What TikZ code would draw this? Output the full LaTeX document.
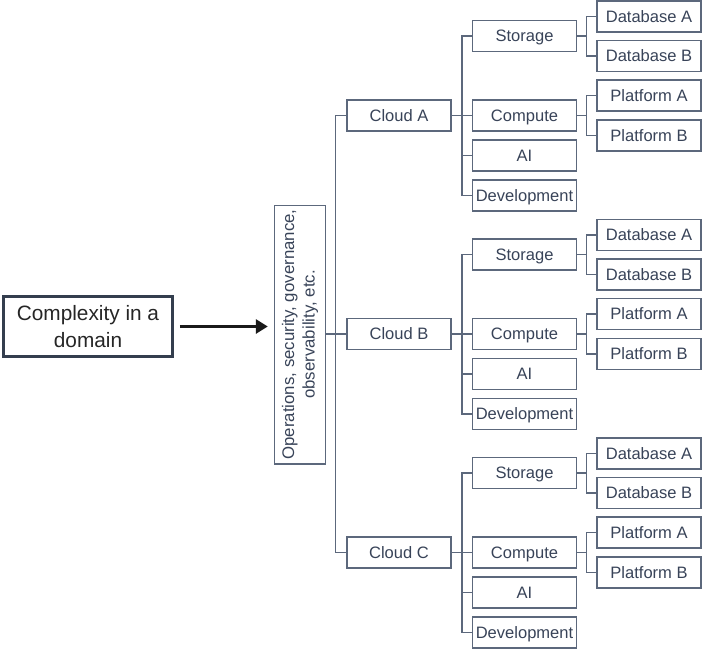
\documentclass[tikz,border=0pt]{standalone}
\usepackage{fontspec}
\setmainfont{Liberation Sans}
\usetikzlibrary{arrows.meta,calc,positioning}
\definecolor{slateline}{RGB}{92,104,124}
\definecolor{slatetext}{RGB}{56,67,88}
\definecolor{darkslate}{RGB}{52,62,78}

\tikzset{
  leaf/.style={draw=slateline, line width=1pt, text=slatetext, minimum width=78pt,
    minimum height=23.3pt, inner sep=0pt, text height=8.9pt, text depth=0pt,
    font=\fontsize{12.4}{14}\selectfont},
  link/.style={draw=slateline, line width=1pt},
}

\begin{document}
\begin{tikzpicture}[x=0.75pt,y=-0.75pt]
        \useasboundingbox (0,0) rectangle (702,649);
        % source and layer
        \node[draw=darkslate, line width=2.3pt, text=black!85, minimum width=126.5pt, minimum height=45pt,
          align=center, inner sep=0pt, font=\fontsize{15.6}{20}\selectfont] (cx) at (88,326.5) {Complexity in a\\domain};
        \node[leaf, rotate=90, minimum width=194pt, minimum height=38.3pt, align=center, text height=, text depth=,
          font=\fontsize{12.6}{15.5}\selectfont] (ops) at (300,334.5) {Operations, security, governance,\\observability, etc.};
        \draw[line width=2.2pt, black!90, -{Triangle[length=9pt,width=10.5pt]}, shorten <=4.5pt, shorten >=4.5pt]
          (cx.east) -- (cx.east -| ops.north);
        % clouds
        \foreach \name/\dy in {A/0,B/218.5,C/437} {
          \node[leaf] (cloud\name) at (399,115.5+\dy) {Cloud \name};
          \node[leaf] (stor\name) at (524.5,36+\dy) {Storage};
          \node[leaf] (comp\name) at (524.5,115.5+\dy) {Compute};
          \node[leaf] (ai\name) at (524.5,155.5+\dy) {AI};
          \node[leaf] (dev\name) at (524.5,195.5+\dy) {Development};
          \node[leaf] (dba\name) at (649,16.5+\dy) {Database A};
          \node[leaf] (dbb\name) at (649,56+\dy) {Database B};
          \node[leaf] (pfa\name) at (649,95.5+\dy) {Platform A};
          \node[leaf] (pfb\name) at (649,135.5+\dy) {Platform B};
          \draw[link] (cloud\name.east) -- (comp\name.west);
          \draw[link] (stor\name.west) -- ++(-10,0) |- (dev\name.west);
          \draw[link] (ai\name.west) -- ++(-10,0);
          \draw[link] (stor\name.east) -- ++(10,0);
          \draw[link] (dba\name.west) -- ++(-10,0) |- (dbb\name.west);
          \draw[link] (comp\name.east) -- ++(10,0);
          \draw[link] (pfa\name.west) -- ++(-10,0) |- (pfb\name.west);
        }
        \draw[link] (cloudA.west) -- ++(-11,0) |- (cloudC.west);
        \draw[link] (cloudB.west) -- (cloudB.west -| ops.south);
      \end{tikzpicture}
\end{document}
